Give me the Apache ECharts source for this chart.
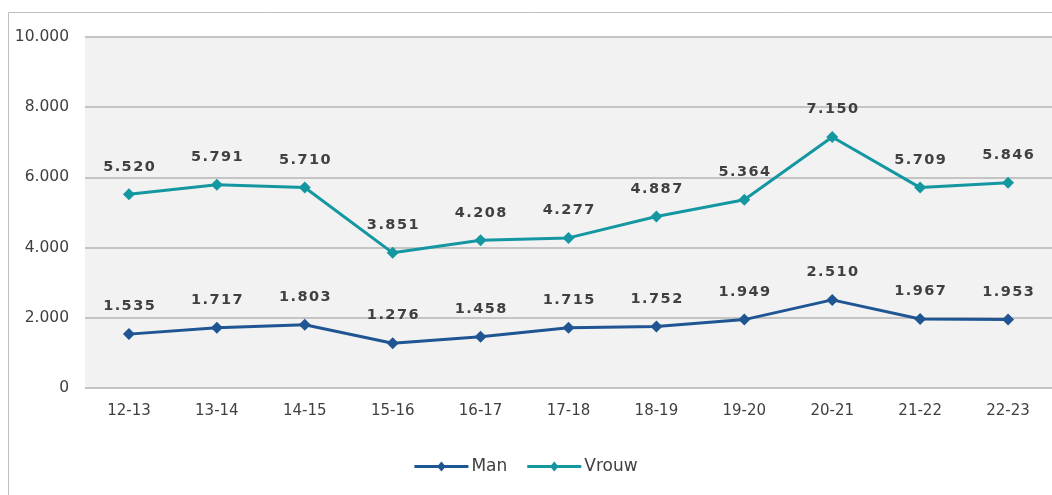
<!DOCTYPE html>
<html><head><meta charset="utf-8">
<script src="https://cdn.jsdelivr.net/npm/echarts@6/dist/echarts.min.js"></script>
<style>html,body{margin:0;padding:0;background:#fff;}#c{width:1052px;height:495px;}</style>
</head><body><div id="c"></div>
<script>
const categories = ['12-13','13-14','14-15','15-16','16-17','17-18','18-19','19-20','20-21','21-22','22-23'];
const man = [1535,1717,1803,1276,1458,1715,1752,1949,2510,1967,1953];
const vrouw = [5520,5791,5710,3851,4208,4277,4887,5364,7150,5709,5846];
const yTicks = {min:0, max:10000, interval:2000};

const fmt = v => {
  const s = String(Math.round(v));
  return s.replace(/\B(?=(\d{3})+(?!\d))/g, '.');
};
const chart = echarts.init(document.getElementById('c'));
const labelStyle = {show:true, position:'top', distance:14, color:'#404040', fontWeight:'bold', fontSize:14.5, fontFamily:'DejaVu Sans', formatter:p=>fmt(p.value).split('').join('\u200A')};
const legendIcon = 'path://M0,3.5L24,3.5L27,0L30,3.5L54,3.5L54,6.5L30,6.5L27,10L24,6.5L0,6.5Z';
chart.setOption({
  animation:false,
  graphic:[{type:'rect', shape:{x:8.5,y:12.5,width:1100,height:600}, style:{fill:'none', stroke:'#c0c0c0', lineWidth:1}, z:-10}],
  grid:{left:85, right:-2, top:37, height:351, backgroundColor:'#f2f2f2', show:true, borderWidth:0},
  legend:{bottom:15, left:'center', itemWidth:54, itemHeight:10, itemGap:20, textStyle:{fontFamily:'DejaVu Sans', fontSize:17, color:'#404040', padding:[0,0,0,-2]},
    data:[{name:'Man', icon:legendIcon},{name:'Vrouw', icon:legendIcon}]},
  xAxis:{type:'category', data:categories, boundaryGap:true,
    axisLine:{show:false}, axisTick:{show:false},
    axisLabel:{color:'#404040', fontFamily:'DejaVu Sans', fontSize:15, margin:16}},
  yAxis:{type:'value', min:yTicks.min, max:yTicks.max, interval:yTicks.interval,
    axisLabel:{color:'#404040', fontFamily:'DejaVu Sans', fontSize:15.5, margin:16, formatter:fmt},
    splitLine:{lineStyle:{color:'#c4c4c4', width:2}}},
  series:[
    {name:'Man', type:'line', data:man, symbol:'diamond', symbolSize:12, color:'#1f5592', lineStyle:{width:3}, label:labelStyle},
    {name:'Vrouw', type:'line', data:vrouw, symbol:'diamond', symbolSize:12, color:'#1497a1', lineStyle:{width:3}, label:labelStyle}
  ]
});
</script></body></html>
